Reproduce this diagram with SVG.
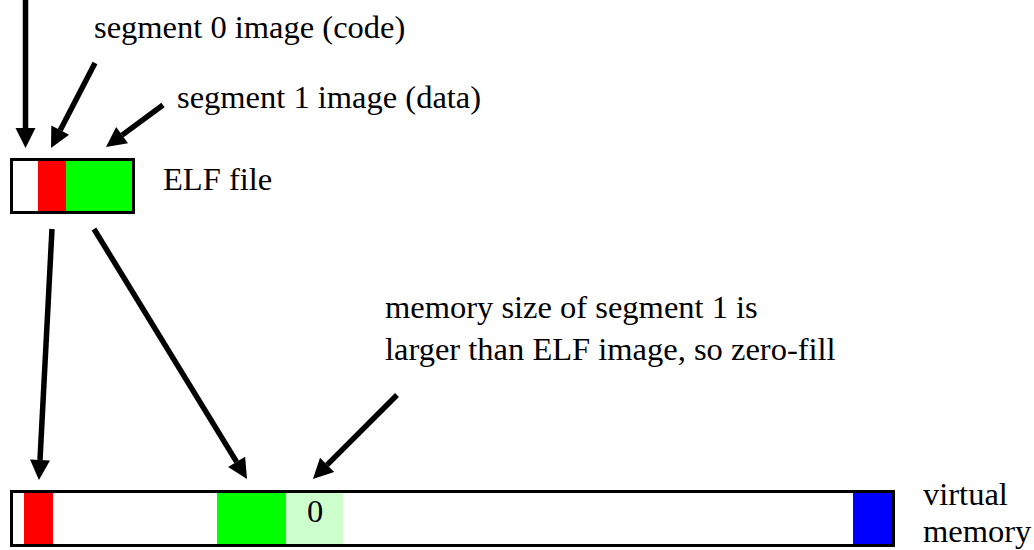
<svg xmlns="http://www.w3.org/2000/svg" width="1034" height="550" viewBox="0 0 1034 550">
  <style>
    text { font-family: "Liberation Serif", "Times New Roman", serif; font-size: 32.5px; fill: #000; }
    .arrow { stroke: #000; stroke-width: 5.5; fill: none; marker-end: url(#head); }
    .outline { fill: none; stroke: #000; stroke-width: 3; }
  </style>
  <defs>
    <marker id="head" markerUnits="userSpaceOnUse" markerWidth="22" markerHeight="22" refX="0" refY="10" orient="auto" overflow="visible">
      <path d="M0,0 L20,10 L0,20 z" fill="#000"/>
    </marker>
  </defs>
  <rect width="1034" height="550" fill="#fff"/>

  <g id="elf-file">
    <rect x="11.5" y="159.5" width="122" height="53" fill="#fff"/>
    <rect x="38" y="159.5" width="28" height="53" fill="#ff0000"/>
    <rect x="66" y="159.5" width="67.5" height="53" fill="#00ff00"/>
    <rect class="outline" x="11.5" y="159.5" width="122" height="53"/>
    <text x="163" y="190">ELF file</text>
  </g>

  <g id="virtual-memory">
    <rect x="11.5" y="491.5" width="882" height="54" fill="#fff"/>
    <rect x="24" y="491.5" width="29" height="54" fill="#ff0000"/>
    <rect x="217" y="491.5" width="69" height="54" fill="#00ff00"/>
    <rect x="286" y="491.5" width="57" height="54" fill="#ccffcc"/>
    <rect x="853" y="491.5" width="40.5" height="54" fill="#0000ff"/>
    <rect class="outline" x="11.5" y="491.5" width="882" height="54"/>
    <text x="315" y="522" text-anchor="middle">0</text>
    <text x="923" y="505">virtual</text>
    <text x="923" y="542">memory</text>
  </g>

  <g id="labels">
    <text x="94" y="38">segment 0 image (code)</text>
    <text x="177" y="108">segment 1 image (data)</text>
    <text x="385" y="318">memory size of segment 1 is</text>
    <text x="385" y="360">larger than ELF image, so zero-fill</text>
  </g>

  <g id="connectors">
    <line class="arrow" x1="25.5" y1="0" x2="25.5" y2="128"/>
    <line class="arrow" x1="95" y1="63" x2="60.2" y2="130.2"/>
    <line class="arrow" x1="163" y1="105" x2="122.1" y2="135.1"/>
    <line class="arrow" x1="52" y1="229" x2="40" y2="460"/>
    <line class="arrow" x1="94" y1="229" x2="236.6" y2="461.9"/>
    <line class="arrow" x1="397" y1="395" x2="327.1" y2="464.9"/>
  </g>
</svg>
